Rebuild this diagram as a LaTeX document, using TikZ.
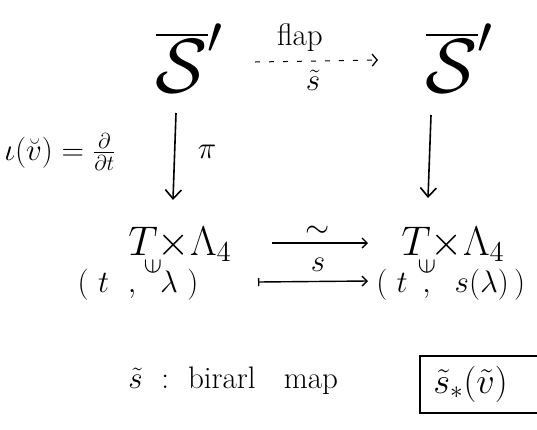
\documentclass[tikz,border=0pt]{standalone}
\usetikzlibrary{arrows.meta}
\begin{document}
\begin{tikzpicture}[x=1pt,y=-1pt,
  every node/.style={inner sep=0pt},
  big/.style={font=\huge,scale=3.7},
  mid/.style={font=\huge,scale=2.0},
  txt/.style={font=\huge,scale=1.5},
  lbl/.style={font=\huge,scale=1.5},
  elem/.style={font=\huge,scale=1.3},
  arr/.style={line width=1.6pt,-{Straight Barb[length=9pt,width=16pt,line width=1.6pt]}},
  harr/.style={line width=1.4pt,-{Straight Barb[length=5pt,width=10pt,line width=1.4pt]}},
  marr/.style={line width=1.4pt,{Bar[width=8pt]}-{Straight Barb[length=5pt,width=10pt,line width=1.4pt]}},
]
\useasboundingbox (0,0) rectangle (537,429);
\clip (0,0) rectangle (537,429);
% top row
\node[big] (S1) at (190,58) {$\overline{\mathcal{S}}'$};
\node[big] (S2) at (460,58) {$\overline{\mathcal{S}}'$};
\coordinate (d1) at (255,62);
\coordinate (d2) at (378,60);
\draw[line width=1pt,dash pattern=on 5pt off 9pt,-{Straight Barb[length=5pt,width=12pt,line width=1.3pt]}]
  (d1) -- (d2);
\node[txt] (flap) at (300,38) {flap};
\node[txt] (st) at (313,80) {$\tilde{s}$};
% middle row
\node[mid] (T1) at (180,244) {$T{\times}\Lambda_4$};
\node[mid] (T2) at (453,244) {$T{\times}\Lambda_4$};
% vertical arrows
\coordinate (v1a) at (176,113);
\coordinate (v1b) at (173,200);
\coordinate (v2a) at (431,115);
\coordinate (v2b) at (428,198);
\draw[arr] (v1a) -- (v1b);
\draw[arr] (v2a) -- (v2b);
\node[txt] (pi) at (207,152) {$\pi$};
\node[lbl,anchor=west] (iota) at (4,152) {$\iota(\breve{v}) = \frac{\partial}{\partial t}$};
\coordinate (h1) at (272,243);
\coordinate (h2) at (368,243);
\draw[harr] (h1) -- (h2);
\node[txt] (iso) at (318,232) {$\sim$};
\node[elem,rotate=90] (in1) at (153,267) {$\in$};
\node[elem,rotate=90] (in2) at (427,267) {$\in$};
% bottom row
\node[txt] (p1) at (138,285) {$(\ t\ \ ,\ \ \lambda\ )$};
\node[txt,anchor=west] (p2) at (376,285) {$(\ t\ \,,\ \ s(\lambda)\,)$};
\coordinate (m1) at (258,282);
\coordinate (m2) at (368,281);
\draw[marr] (m1) -- (m2);
\node[txt] (s) at (318,265) {$s$};
% bottom line
\node[txt,anchor=west] (def) at (128,381) {$\tilde{s}$\ \ :\ \ birarl\ \ \ map};
\draw[line width=1.4pt] (420,356) rectangle (560,413);
\node[font=\huge,scale=1.75,anchor=west] (bt) at (433,384) {$\tilde{s}_*(\tilde{v})$};
\end{tikzpicture}
\end{document}
